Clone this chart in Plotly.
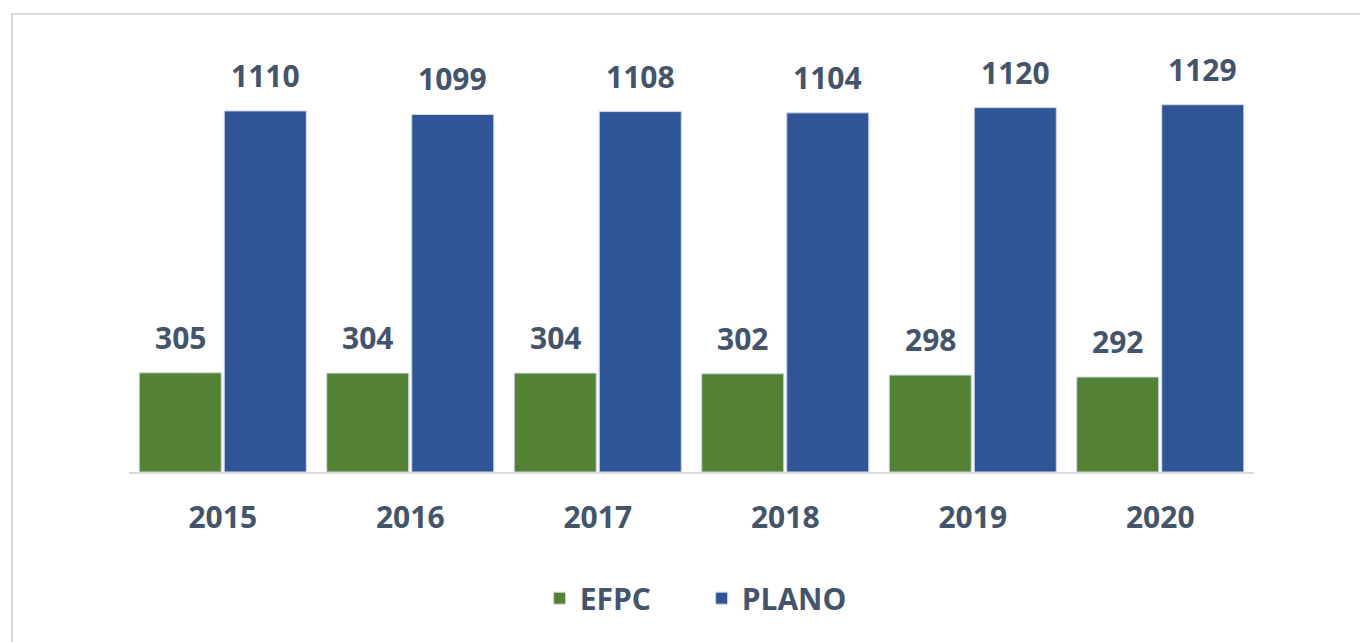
import plotly.graph_objects as go

# data
years = ["2015", "2016", "2017", "2018", "2019", "2020"]
efpc = [305, 304, 304, 302, 298, 292]
plano = [1110, 1099, 1108, 1104, 1120, 1129]

green = "#548235"
blue = "#2F5597"
txt = "#44546A"
font_family = "Open Sans"
fsize = 30

fig = go.Figure()
fig.add_trace(go.Bar(x=years, y=efpc, name="EFPC", marker=dict(color=green, line=dict(color="#cfd8e8", width=1))))
fig.add_trace(go.Bar(x=years, y=plano, name="PLANO", marker=dict(color=blue, line=dict(color="#cfd8e8", width=1))))

# value labels above the bars (offset left/right inside each group)
# x is the category index, since "2015" would be read as index 2015 on a category axis
for i in range(len(years)):
    fig.add_annotation(x=i, y=efpc[i], text=str(efpc[i]), showarrow=False, xref="x", yref="y",
                       yanchor="bottom", xshift=-42.5, yshift=13,
                       font=dict(family=font_family, size=fsize, color=txt, weight="bold"))
    fig.add_annotation(x=i, y=plano[i], text=str(plano[i]), showarrow=False, xref="x", yref="y",
                       yanchor="bottom", xshift=42.5, yshift=13,
                       font=dict(family=font_family, size=fsize, color=txt, weight="bold"))

# light frame round the chart (cut off at the right and bottom)
fig.add_shape(type="rect", xref="paper", yref="paper", x0=-0.104, x1=1.2, y0=-0.6, y1=1.06,
              line=dict(color="#D9D9D9", width=2), fillcolor="rgba(0,0,0,0)", layer="below")

fig.update_layout(
    width=1360, height=642,
    margin=dict(l=129, r=106, t=40, b=170),
    paper_bgcolor="white", plot_bgcolor="white",
    barmode="group", bargap=0.093, bargroupgap=0.035,
    font=dict(family=font_family, color=txt),
    showlegend=True,
    legend=dict(orientation="h", x=0.509, xanchor="center", y=-0.292, yanchor="middle",
                font=dict(family=font_family, size=fsize, color=txt, weight="bold"),
                itemwidth=30, entrywidth=117, traceorder="normal"),
)
fig.update_xaxes(type="category", range=[-0.5, len(years) - 0.5], showline=True, linecolor="#D9D9D9",
                 linewidth=2, ticks="", showgrid=False,
                 tickfont=dict(family=font_family, size=fsize, color=txt, weight="bold"),
                 ticklabelstandoff=18)
fig.update_yaxes(range=[0, 1328], visible=False, showgrid=False, zeroline=False)

# drop the default page margin so the figure sits at the window's corner
fig.write_html("out.html", config={"displayModeBar": False},
               post_script="document.body.style.margin='0px';")
